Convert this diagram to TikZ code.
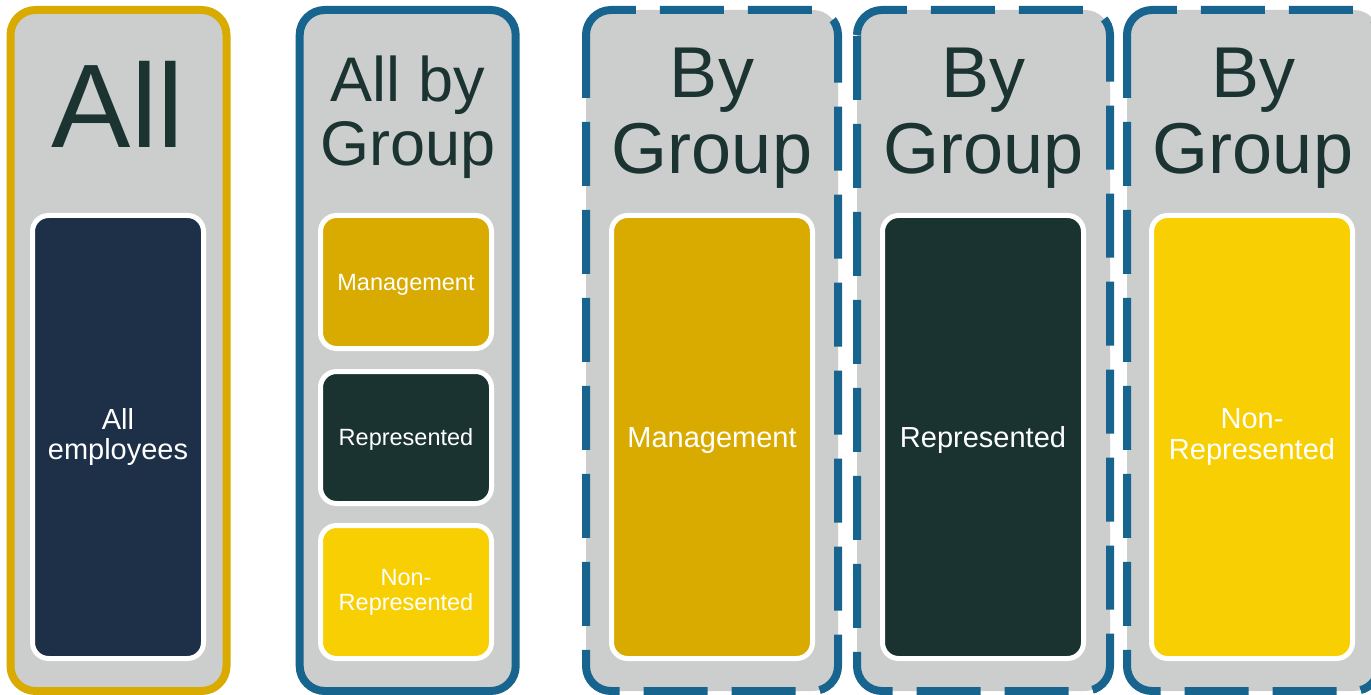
\documentclass[tikz,border=0pt]{standalone}
\usepackage{fontspec}
\setmainfont{Liberation Sans}

\definecolor{panelgray}{HTML}{CCCECD}
\definecolor{titleink}{HTML}{1B3331}
\definecolor{gold}{HTML}{D9AA00}
\definecolor{navy}{HTML}{1D3048}
\definecolor{darkteal}{HTML}{1B3330}
\definecolor{sun}{HTML}{F7CF02}
\definecolor{steel}{HTML}{17648F}

\tikzset{
  panel/.style={fill=panelgray, line width=8pt, rounded corners=25pt,
    minimum height=681pt, inner sep=0pt, outer sep=0pt},
  % dashed frame, traced clockwise from the top left bend
  dashedge/.style={draw=steel, line width=8pt, rounded corners=25pt,
    dash pattern=on 64pt off 24pt},
  title/.style={text=titleink, align=center, inner sep=0pt, anchor=north},
  % a taller first line sets the label a little lower
  cell/.style={draw=white, line width=5pt, rounded corners=16pt, text=white,
    align=center, inner sep=0pt, font=\fontsize{29}{31}\selectfont,
    execute at begin node={\rule{0pt}{0.93em}}},
}

\begin{document}
\begin{tikzpicture}[x=1pt,y=-1pt]
  \useasboundingbox (0,0) rectangle (1371,695);

  % outer panels
  \node[panel, draw=gold, minimum width=216pt] (all) at (118.5,350.5) {};
  \node[panel, draw=steel, minimum width=216pt] (allgrp) at (407.7,350.5) {};
  \node[panel, minimum width=252pt] (grpmgmt) at (712,350.5) {};
  \node[panel, minimum width=253pt] (grprep) at (983.5,350.5) {};
  \node[panel, minimum width=252pt] (grpnonrep) at (1253,350.5) {};

  \draw[dashedge] ([yshift=-25pt]grpmgmt.north west) -- (grpmgmt.north west) -- (grpmgmt.north east)
    -- (grpmgmt.south east) -- (grpmgmt.south west) -- ([yshift=-25pt]grpmgmt.north west);
  \draw[dashedge] ([yshift=-25pt]grprep.north west) -- (grprep.north west) -- (grprep.north east)
    -- (grprep.south east) -- (grprep.south west) -- ([yshift=-25pt]grprep.north west);
  \draw[dashedge] ([yshift=-25pt]grpnonrep.north west) -- (grpnonrep.north west) -- (grpnonrep.north east)
    -- (grpnonrep.south east) -- (grpnonrep.south west) -- ([yshift=-25pt]grpnonrep.north west);

  % headings
  \node[title, font=\fontsize{119}{122}\selectfont] (alltitle) at (118,61) {All};
  \node[title, font=\fontsize{63}{64}\selectfont] (allgrptitle) at (407.7,56) {All by\\Group};
  \node[title, font=\fontsize{72}{76}\selectfont] (mgmttitle) at (712,48) {By\\Group};
  \node[title, font=\fontsize{72}{76}\selectfont] (reptitle) at (983.5,48) {By\\Group};
  \node[title, font=\fontsize{72}{76}\selectfont] (nonreptitle) at (1253,48) {By\\Group};

  % inner cells
  \node[cell, fill=navy, minimum width=171pt, minimum height=443pt] (allemp) at (118,437) {All\\employees};

  \node[cell, fill=gold, minimum width=171pt, minimum height=133pt,
    font=\fontsize{23.5}{25}\selectfont] (mgmt) at (406,282) {Management};
  \node[cell, fill=darkteal, minimum width=171pt, minimum height=132pt,
    font=\fontsize{23.5}{25}\selectfont] (rep) at (406,437.5) {Represented};
  \node[cell, fill=sun, minimum width=171pt, minimum height=133pt,
    font=\fontsize{23.5}{25}\selectfont] (nonrep) at (406,592) {Non-\\Represented};

  \node[cell, fill=gold, minimum width=201pt, minimum height=443pt] (mgmtbig) at (712,437) {Management};
  \node[cell, fill=darkteal, minimum width=201pt, minimum height=443pt] (repbig) at (983,437) {Represented};
  \node[cell, fill=sun, minimum width=201pt, minimum height=443pt] (nonrepbig) at (1252,437) {Non-\\Represented};
\end{tikzpicture}
\end{document}
